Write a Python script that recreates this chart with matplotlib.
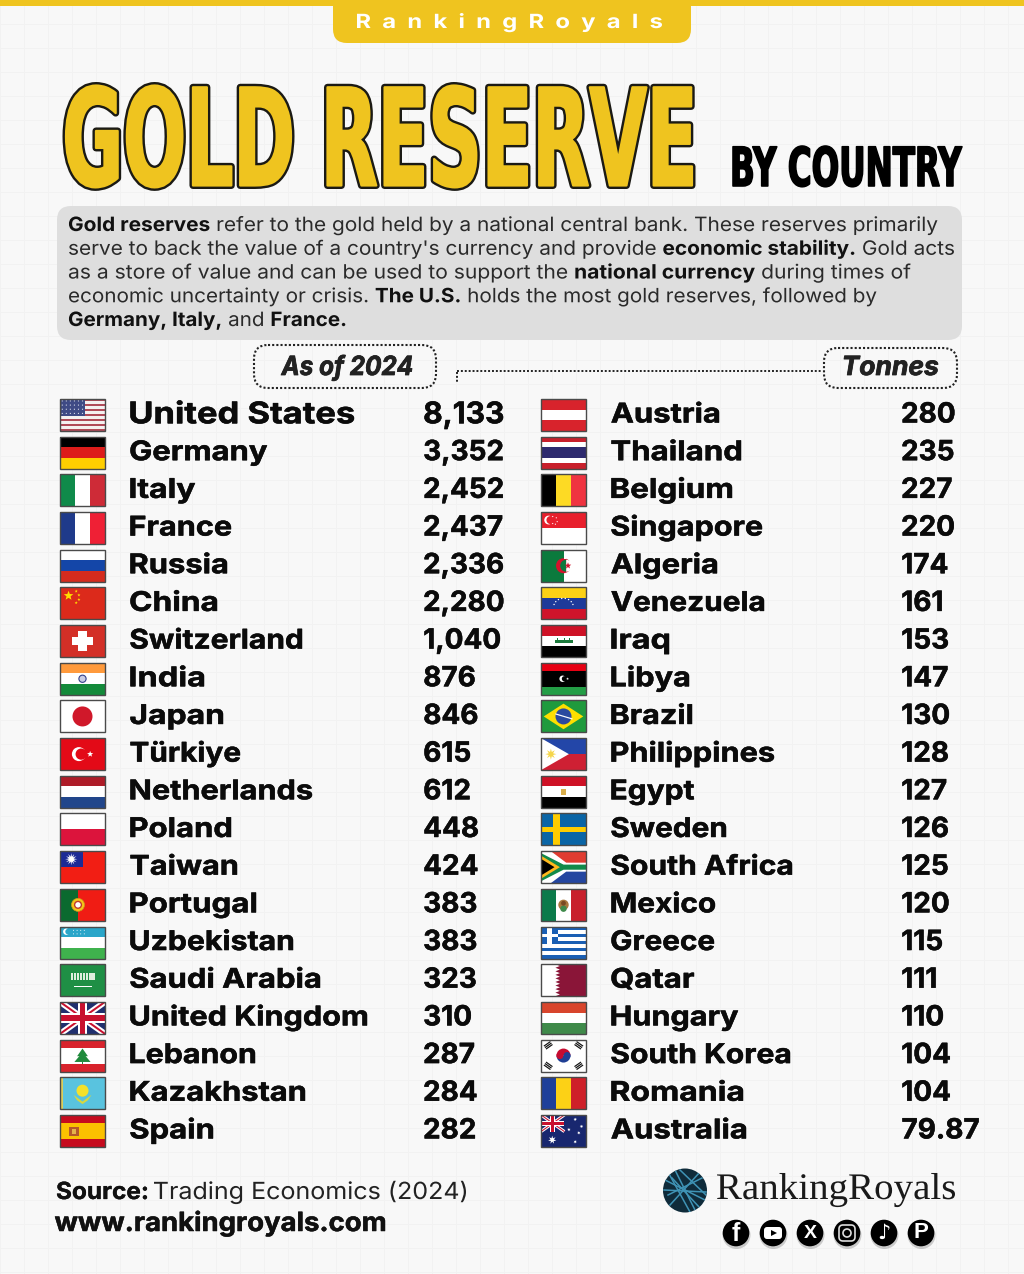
import matplotlib
matplotlib.use("Agg")
import matplotlib.pyplot as plt
from matplotlib.patches import Rectangle, Polygon, Circle, FancyBboxPatch, Wedge
from matplotlib.patheffects import AbstractPathEffect
from matplotlib.textpath import TextPath
from matplotlib.transforms import Affine2D
from matplotlib.font_manager import FontProperties
import numpy as np

# ---------------- data ----------------
countries_left = ["United States", "Germany", "Italy", "France", "Russia", "China", "Switzerland",
                  "India", "Japan", "Türkiye", "Netherlands", "Poland", "Taiwan", "Portugal",
                  "Uzbekistan", "Saudi Arabia", "United Kingdom", "Lebanon", "Kazakhstan", "Spain"]
tonnes_left = [8133, 3352, 2452, 2437, 2336, 2280, 1040, 876, 846, 615,
               612, 448, 424, 383, 383, 323, 310, 287, 284, 282]
countries_right = ["Austria", "Thailand", "Belgium", "Singapore", "Algeria", "Venezuela", "Iraq",
                   "Libya", "Brazil", "Philippines", "Egypt", "Sweden", "South Africa", "Mexico",
                   "Greece", "Qatar", "Hungary", "South Korea", "Romania", "Australia"]
tonnes_right = [280, 235, 227, 220, 174, 161, 153, 147, 130, 128,
                127, 126, 125, 120, 115, 111, 110, 104, 104, 79.87]
paragraph = [
    [("Gold reserves", True), (" refer to the gold held by a national central bank. These reserves primarily", False)],
    [("serve to back the value of a country's currency and provide ", False), ("economic stability.", True), (" Gold acts", False)],
    [("as a store of value and can be used to support the ", False), ("national currency", True), (" during times of", False)],
    [("economic uncertainty or crisis. ", False), ("The U.S.", True), (" holds the most gold reserves, followed by", False)],
    [("Germany, Italy,", True), (" and ", False), ("France.", True)],
]

# layout only: right-hand ends of the text runs, in picture pixels
paragraph_right = [938, 955, 911, 877, 347]
name_ends_left = [354, 267, 195, 231, 227, 217, 302, 204, 223, 240,
                  312, 231, 237, 256, 293, 320, 367, 255, 305, 213]
name_ends_right = [719, 741, 732, 762, 717, 764, 669, 689, 692, 774,
                   694, 726, 792, 715, 714, 694, 738, 790, 743, 746]

GOLD = "#EFC41F"
INK = "#0b0b0b"
BG = "#F8F8F8"
BODY = "Inter"

fig = plt.figure(figsize=(10.24, 12.74), dpi=100, facecolor=BG)
ax = fig.add_axes([0, 0, 1, 1])
ax.set_xlim(0, 1024)
ax.set_ylim(1274, 0)
ax.axis("off")


class Fit(AbstractPathEffect):
    """Stretch a text's glyphs about its origin, with optional stroked layers under the fill."""
    def __init__(self, sx=1, sy=1, layers=()):
        super().__init__()
        self.sx, self.sy, self.layers = sx, sy, layers

    def draw_path(self, renderer, gc, tpath, affine, rgbFace=None):
        a = Affine2D().scale(self.sx, self.sy) + affine
        for lw, col in self.layers:
            g = renderer.new_gc()
            g.copy_properties(gc)
            g.set_linewidth(lw * 0.72)
            g.set_foreground(col)
            g.set_joinstyle("round")
            renderer.draw_path(g, tpath, a, rgbFace=matplotlib.colors.to_rgba(col))
            g.restore()
        renderer.draw_path(gc, tpath, a, rgbFace)


def ink(s, size, fp):
    p = FontProperties(family=fp.get_family(), weight=fp.get_weight(), style=fp.get_style(), size=size)
    e = TextPath((0, 0), s, size=size, prop=p).get_extents()
    k = 100 / 72
    return e.x0 * k, e.x1 * k, e.y0 * k, e.y1 * k


def fit(x0, x1, base, s, size, family=BODY, weight="bold", style="normal", color=INK,
        top=None, layers=(), z=5):
    fp = FontProperties(family=family, weight=weight, style=style)
    a, b, c, d = ink(s, size, fp)
    sx = (x1 - x0) / (b - a)
    sy = 1 if top is None else (base - top) / d
    return ax.text(x0 - a * sx, base, s, fontsize=size, family=family, weight=weight, style=style,
                   color=color, va="baseline", ha="left", zorder=z,
                   path_effects=[Fit(sx, sy, layers)])


# ---------------- background ----------------
for gx in np.arange(0, 1024, 24):
    ax.axvline(gx, color="#F2F2F2", lw=0.7, zorder=0)
for gy in np.arange(0, 1274, 24):
    ax.axhline(gy, color="#F2F2F2", lw=0.7, zorder=0)

ax.add_patch(Rectangle((0, 0), 1024, 5.5, fc=GOLD, lw=0, zorder=1))
ax.add_patch(FancyBboxPatch((333 + 14, -20 + 14), 358 - 28, 63 - 28, boxstyle="round,pad=14,rounding_size=14",
                            lw=0, fc=GOLD, zorder=1))
fit(357, 662, 28, "R  a  n  k  i  n  g  R  o  y  a  l  s", 15, color="white", weight="bold", top=13)

# ---------------- title ----------------
fit(66, 692, 185.5, "GOLD RESERVE", 52, family="DejaVu Sans", top=85.5, color=GOLD,
    layers=[(7.0, "#1b1a14"), (2.2, GOLD)])
fit(733, 962, 186, "BY COUNTRY", 21, family="DejaVu Sans", top=146, color="black",
    layers=[(1.6, "black")])

# ---------------- paragraph ----------------
ax.add_patch(FancyBboxPatch((57 + 14, 206 + 14), 905 - 28, 134 - 28, boxstyle="round,pad=14,rounding_size=14",
                            lw=0, fc="#DEDEDE", zorder=1))
P_SIZE = 14.2
for i, (runs, right) in enumerate(zip(paragraph, paragraph_right)):
    base = 231 + i * 23.75
    widths = []
    for s, bold in runs:
        fp = FontProperties(family=BODY, weight="bold" if bold else "normal")
        a, b, _, _ = ink(s + "|", P_SIZE, fp)
        a2, b2, _, _ = ink("|", P_SIZE, fp)
        widths.append(b - (b2 - a2) - a2)
    scale = (right - 68) / sum(widths)
    x = 68
    for (s, bold), w in zip(runs, widths):
        ax.text(x, base, s, fontsize=P_SIZE, family=BODY, weight="bold" if bold else "normal",
                color="#111111" if bold else "#2a2a2a", va="baseline", zorder=5,
                path_effects=[Fit(scale, 1)])
        x += w * scale

# ---------------- dotted labels ----------------
DOT = dict(lw=1.5, ls=(0, (1, 1)), ec="#222222", fc="none", zorder=3)
ax.add_patch(FancyBboxPatch((254 + 14, 345 + 14), 182 - 28, 43 - 28, boxstyle="round,pad=14,rounding_size=14", **DOT))
ax.add_patch(FancyBboxPatch((824 + 14, 348 + 14), 133 - 28, 40 - 28, boxstyle="round,pad=14,rounding_size=14", **DOT))
ax.plot([457, 822], [371, 371], color="#222222", lw=1.4, ls=(0, (1, 1)), zorder=3)
ax.plot([457, 457], [372, 382], color="#222222", lw=1.4, ls=(0, (1, 1)), zorder=3)
fit(281, 412, 375, "As of 2024", 19, style="italic", color="#222222", layers=[(0.8, "#222222")])
fit(844, 938, 375, "Tonnes", 19, style="italic", color="#222222", layers=[(0.8, "#222222")])

# ---------------- flags ----------------
W, H = 45, 32


class F:
    def __init__(self, x, y):
        self.x, self.y = x, y
        self.clip = Rectangle((x, y), W, H, transform=ax.transData)

    def _add(self, p):
        p.set_zorder(4)
        ax.add_patch(p)
        p.set_clip_path(self.clip)

    def r(self, u0, v0, u1, v1, c):
        self._add(Rectangle((self.x + u0 * W, self.y + v0 * H), (u1 - u0) * W, (v1 - v0) * H, fc=c, lw=0))

    def p(self, pts, c):
        self._add(Polygon([(self.x + u * W, self.y + v * H) for u, v in pts], fc=c, lw=0))

    def c(self, u, v, rad, c, ec=None, lw=0):
        self._add(Circle((self.x + u * W, self.y + v * H), rad, fc=c, ec=ec, lw=lw))

    def w(self, u, v, rad, t0, t1, c):
        self._add(Wedge((self.x + u * W, self.y + v * H), rad, t0, t1, fc=c, lw=0))

    def star(self, u, v, rad, c, n=5):
        a = np.arange(2 * n) * np.pi / n - np.pi / 2
        rr = np.where(np.arange(2 * n) % 2 == 0, rad, rad * 0.42)
        self.p([(u + q * np.cos(t) / W, v + q * np.sin(t) / H) for q, t in zip(rr, a)], c)

    def line(self, u0, v0, u1, v1, w, c):
        a = np.array([u0 * W, v0 * H])
        b = np.array([u1 * W, v1 * H])
        n = np.array([-(b - a)[1], (b - a)[0]])
        n = n / np.hypot(*n) * w / 2
        q = [a + n, b + n, b - n, a - n]
        self.p([(t[0] / W, t[1] / H) for t in q], c)

    def hs(self, cols, wts=None):
        wts = wts or [1] * len(cols)
        e = np.cumsum([0] + list(wts)) / sum(wts)
        for i, c in enumerate(cols):
            self.r(0, e[i], 1, e[i + 1], c)

    def vs(self, cols, wts=None):
        wts = wts or [1] * len(cols)
        e = np.cumsum([0] + list(wts)) / sum(wts)
        for i, c in enumerate(cols):
            self.r(e[i], 0, e[i + 1], 1, c)


def union(f, u1=1.0, v1=1.0, navy="#1f2f6e"):
    f.r(0, 0, u1, v1, navy)
    for a, b, c, d in [(0, 0, u1, v1), (0, v1, u1, 0)]:
        f.line(a, b, c, d, 6 * u1, "white")
    for a, b, c, d in [(0, 0, u1, v1), (0, v1, u1, 0)]:
        f.line(a, b, c, d, 2 * u1, "#c8102e")
    f.r(u1 * .39, 0, u1 * .61, v1, "white")
    f.r(0, v1 * .35, u1, v1 * .65, "white")
    f.r(u1 * .44, 0, u1 * .56, v1, "#c8102e")
    f.r(0, v1 * .41, u1, v1 * .59, "#c8102e")


def us(f):
    f.hs(["#b04a58", "#f4f0f0"] * 6 + ["#b04a58"])
    f.r(0, 0, .56, 7 / 13, "#3f4a85")
    for i in range(6):
        for j in range(4):
            f.c(.05 + i * .09, .06 + j * .13, .6, "#dfe2ee")


def china(f):
    f.r(0, 0, 1, 1, "#dc2a1b")
    f.star(.19, .26, 5, "#ffde00")
    for u, v in [(.36, .12), (.42, .24), (.42, .38), (.36, .48)]:
        f.star(u, v, 1.6, "#ffde00")


def swiss(f):
    f.r(0, 0, 1, 1, "#d32f27")
    f.r(.39, .2, .61, .8, "white")
    f.r(.26, .38, .74, .62, "white")


def india(f):
    f.hs(["#ff9a3c", "white", "#138a3a"])
    f.c(.5, .5, 3.6, "#c9cde6", ec="#34408a", lw=.8)


def japan(f):
    f.r(0, 0, 1, 1, "white")
    f.c(.5, .5, 10, "#d0182a")


def turkey(f):
    f.r(0, 0, 1, 1, "#e30a17")
    f.c(.42, .5, 7, "white")
    f.c(.47, .5, 5.6, "#e30a17")
    f.star(.67, .5, 3.2, "white")


def taiwan(f):
    f.r(0, 0, 1, 1, "#f21e14")
    f.r(0, 0, .5, .5, "#1c2a96")
    f.star(.25, .25, 6, "white", n=12)


def portugal(f):
    f.vs(["#0b6a2f", "#f01c14"], [2, 3])
    f.c(.4, .5, 6.5, "#f5c518", ec="#c9981a", lw=.5)
    f.c(.4, .5, 3.4, "white", ec="#c0392b", lw=1)


def uzbek(f):
    f.hs(["#2aa6c9", "#c8232c", "white", "#c8232c", "#3fb24d"], [10, .7, 10, .7, 10])
    f.c(.14, .16, 3.2, "white")
    f.c(.18, .16, 2.8, "#2aa6c9")
    for i in range(4):
        for j in range(2):
            f.c(.3 + i * .08, .12 + j * .11, .5, "white")


def saudi(f):
    f.r(0, 0, 1, 1, "#1f8f45")
    f.r(.24, .26, .78, .5, "#dfeedd")
    for u in np.arange(.28, .78, .07):
        f.r(u, .26, u + .02, .5, "#1f8f45")
    f.r(.3, .68, .72, .72, "white")


def uk(f):
    union(f)


def lebanon(f):
    f.hs(["#d8232c", "white", "#d8232c"], [1, 2, 1])
    f.p([(.5, .28), (.38, .52), (.62, .52)], "#1f8a3b")
    f.p([(.5, .4), (.32, .7), (.68, .7)], "#1f8a3b")
    f.r(.48, .7, .52, .76, "#1f8a3b")


def kazakh(f):
    f.r(0, 0, 1, 1, "#59c3df")
    f.r(0, 0, .06, 1, "#d9cc5a")
    f.c(.5, .42, 6, "#f4e12a")
    f.p([(.3, .55), (.5, .76), (.7, .55), (.62, .72), (.5, .84), (.38, .72)], "#d6d83f")


def spain(f):
    f.hs(["#c60b1e", "#fbc100", "#c60b1e"], [1, 2, 1])
    f.r(.2, .38, .42, .66, "#b5572a")
    f.r(.26, .44, .36, .6, "#e5b34a")


def singapore(f):
    f.hs(["#e81f2c", "white"])
    f.c(.17, .25, 4.4, "white")
    f.c(.21, .25, 4.0, "#e81f2c")
    for u, v in [(.26, .14), (.34, .18), (.36, .3), (.26, .36), (.32, .38)]:
        f.c(u, v, .6, "white")


def algeria(f):
    f.vs(["#0b7a3d", "white"])
    f.c(.5, .5, 7.5, "#d2132c")
    f.w(.56, .5, 6, 90, 270, "#0b7a3d")
    f.w(.56, .5, 6, -90, 90, "white")
    f.r(.5, 0, .56, .3, "white")
    f.star(.6, .5, 3.4, "#d2132c")


def venezuela(f):
    f.hs(["#fcd116", "#1e3a9a", "#cf142b"])
    for t in np.linspace(np.pi * 1.1, np.pi * 1.9, 8):
        f.c(.5 + .22 * np.cos(t), .62 + .28 * np.sin(t), .7, "white")


def iraq(f):
    f.hs(["#ce1126", "white", "black"])
    f.r(.3, .47, .7, .57, "#1b7a3c")
    for u in (.35, .5, .62):
        f.r(u, .41, u + .03, .5, "#1b7a3c")


def libya(f):
    f.hs(["#e70013", "black", "#239e46"], [1, 2, 1])
    f.c(.48, .5, 3.2, "white")
    f.c(.52, .5, 2.6, "black")
    f.star(.59, .5, 1.4, "white")


def brazil(f):
    f.r(0, 0, 1, 1, "#1f9a3d")
    f.p([(.5, .1), (.94, .5), (.5, .9), (.06, .5)], "#fedf00")
    f.c(.5, .5, 8, "#2b4a9f")
    f.line(.32, .42, .7, .58, 1.2, "white")


def philippines(f):
    f.hs(["#2346a8", "#ce2033"])
    f.p([(0, 0), (.62, .5), (0, 1)], "white")
    f.star(.22, .5, 5.5, "#f6d64a", n=8)


def egypt(f):
    f.hs(["#ce1126", "white", "black"])
    f.r(.44, .4, .56, .6, "#d8ad4a")


def sweden(f):
    f.r(0, 0, 1, 1, "#0a65a6")
    f.r(.27, 0, .42, 1, "#fecc00")
    f.r(0, .41, 1, .59, "#fecc00")


def safrica(f):
    f.hs(["#e03c31", "#2446a0"])
    f.p([(0, -.04), (.18, -.04), (.56, .36), (1, .36), (1, .64), (.56, .64), (.18, 1.04), (0, 1.04)], "white")
    f.p([(0, .06), (.5, .42), (1, .42), (1, .58), (.5, .58), (0, .94)], "#118a4a")
    f.p([(0, .14), (.42, .5), (0, .86)], "#ffb81c")
    f.p([(0, .24), (.3, .5), (0, .76)], "black")


def mexico(f):
    f.vs(["#0b7a4a", "white", "#c8202c"])
    f.c(.5, .5, 5.2, "#a9783d")
    f.c(.5, .62, 3.2, "#3f8a4a")
    f.c(.5, .45, 2.4, "#7a4a22")


def greece(f):
    f.hs(["#1a5fb4", "white"] * 4 + ["#1a5fb4"])
    f.r(0, 0, .38, 5 / 9, "#1a5fb4")
    f.r(.14, 0, .24, 5 / 9, "white")
    f.r(0, 2 / 9, .38, 3 / 9, "white")


def qatar(f):
    f.r(0, 0, 1, 1, "#8a1538")
    n = 9
    pts = [(0, 0)]
    for i in range(n):
        pts += [(.32, i / n), (.42, (i + .5) / n)]
    pts += [(.32, 1), (0, 1)]
    f.p(pts, "white")


def skorea(f):
    f.r(0, 0, 1, 1, "white")
    f.w(.5, .5, 7, 180, 360, "#c60c30")
    f.w(.5, .5, 7, 0, 180, "#1f3f94")
    f.c(.42, .5, 3.5, "#c60c30")
    f.c(.58, .5, 3.5, "#1f3f94")
    for (u, v), ang in zip([(.16, .18), (.84, .18), (.16, .82), (.84, .82)], [-35, 35, 35, -35]):
        for k in (-1.8, 0, 1.8):
            t = np.deg2rad(ang)
            du, dv = 4 * np.cos(t) / W, 4 * np.sin(t) / H
            ou, ov = k * -np.sin(t) / W, k * np.cos(t) / H
            f.line(u - du + ou, v - dv + ov, u + du + ou, v + dv + ov, 1.2, "#111111")


def australia(f):
    f.r(0, 0, 1, 1, "#18276f")
    union(f, .52, .52, "#18276f")
    f.star(.25, .78, 4.2, "white", n=7)
    for u, v in [(.76, .14), (.62, .46), (.9, .36), (.76, .84), (.84, .56)]:
        f.star(u, v, 1.8, "white", n=7)


def stripes(cols, wts=None):
    return lambda f: f.hs(cols, wts)


def bars(cols, wts=None):
    return lambda f: f.vs(cols, wts)


FLAGS = {
    "United States": us, "Germany": stripes(["black", "#dd1c1a", "#ffce00"]),
    "Italy": bars(["#0f8a4a", "white", "#ce2b37"]), "France": bars(["#1f3a8a", "white", "#ef2035"]),
    "Russia": stripes(["white", "#1446a8", "#d52b1e"]), "China": china, "Switzerland": swiss,
    "India": india, "Japan": japan, "Türkiye": turkey,
    "Netherlands": stripes(["#ae1c28", "white", "#21468b"]), "Poland": stripes(["white", "#dc143c"]),
    "Taiwan": taiwan, "Portugal": portugal, "Uzbekistan": uzbek, "Saudi Arabia": saudi,
    "United Kingdom": uk, "Lebanon": lebanon, "Kazakhstan": kazakh, "Spain": spain,
    "Austria": stripes(["#d8232c", "white", "#d8232c"]),
    "Thailand": stripes(["#c8202c", "white", "#2d2a6e", "white", "#c8202c"], [1, 1, 2, 1, 1]),
    "Belgium": bars(["black", "#fdda24", "#ef3340"]), "Singapore": singapore, "Algeria": algeria,
    "Venezuela": venezuela, "Iraq": iraq, "Libya": libya, "Brazil": brazil, "Philippines": philippines,
    "Egypt": egypt, "Sweden": sweden, "South Africa": safrica, "Mexico": mexico, "Greece": greece,
    "Qatar": qatar, "Hungary": stripes(["#d8452c", "white", "#3f8a4a"]), "South Korea": skorea,
    "Romania": bars(["#1e3f9a", "#fcd116", "#ce2029"]), "Australia": australia,
}

# ---------------- rows ----------------
ROW0, ROWSTEP = 415, 37.68
NAME_SIZE, NUM_SIZE = 19.5, 20
NAME_FP = dict(family=BODY, weight="bold")
_a, _b, _, _ = ink("3,352", NUM_SIZE, FontProperties(**NAME_FP))
NUM_SX = 78 / (_b - _a)
STROKE = [(0.5, INK)]


def label(x, base, s, size, sx=None, end=None):
    a, b, _, _ = ink(s, size, FontProperties(**NAME_FP))
    if end is not None:
        sx = (end - x) / (b - a)
    ax.text(x - a * sx, base, s, fontsize=size, color=INK, va="baseline", zorder=5,
            path_effects=[Fit(sx, 1, STROKE)], **NAME_FP)


def column(names, vals, ends, flag_x, name_x, num_x):
    for i, (n, v, e) in enumerate(zip(names, vals, ends)):
        cy = ROW0 + i * ROWSTEP
        f = F(flag_x, cy - H / 2)
        FLAGS[n](f)
        ax.add_patch(Rectangle((flag_x, cy - H / 2), W, H, fc="none", ec="#4a4a4a", lw=1, zorder=4.5))
        big = n == "United States"
        base = cy + (8.3 if big else 7.5)
        label(name_x, base, n, 21.5 if big else NAME_SIZE, end=e)
        label(num_x, base, f"{v:,}", 21.5 if big else NUM_SIZE, sx=NUM_SX)


column(countries_left, tonnes_left, name_ends_left, 60, 130.5, 424.5)
column(countries_right, tonnes_right, name_ends_right, 541, 611.5, 902.5)

# ---------------- footer ----------------
fit(57, 147, 1199, "Source:", 17, color="#111111", layers=[(0.3, "#111111")])
fit(154, 466, 1199, "Trading Economics (2024)", 17, weight="normal", color="#222222")
fit(55, 385, 1231, "www.rankingroyals.com", 19, color="#111111", layers=[(0.5, "#111111")])

# logo
ax.add_patch(Circle((685, 1190.5), 22, fc="#0f2b3a", lw=0, zorder=4))
logo_clip = Circle((685, 1190.5), 22, transform=ax.transData)
for (x0, y0, x1, y1) in [(665, 1180, 705, 1200), (670, 1205, 700, 1172), (668, 1195, 702, 1178),
                         (675, 1170, 695, 1210), (664, 1190, 706, 1192), (672, 1178, 700, 1208),
                         (668, 1172, 690, 1212), (680, 1170, 706, 1195)]:
    l, = ax.plot([x0, x1], [y0, y1], color="#3f93b5", lw=1.1, zorder=4.5)
    l.set_clip_path(logo_clip)
fit(717, 955, 1199, "RankingRoyals", 27, family="Liberation Serif", weight="normal", color="#1a1a1a")

# social icons
ICON_X = [736, 773, 810, 847, 884, 921]
ICON_Y = 1233
for x in ICON_X:
    ax.add_patch(Circle((x + 0.5, ICON_Y + 2), 14, fc="#000000", alpha=.18, lw=0, zorder=3))
    ax.add_patch(Circle((x, ICON_Y), 13.3, fc="black", lw=0, zorder=4))
tx = dict(color="white", ha="center", va="center", zorder=5, weight="bold")
ax.text(ICON_X[0], ICON_Y + 1, "f", fontsize=18, family="Liberation Sans", **tx)
ax.add_patch(FancyBboxPatch((ICON_X[1] - 7, ICON_Y - 4), 14, 8, boxstyle="round,pad=2,rounding_size=3", fc="white", lw=0, zorder=5))
ax.add_patch(Polygon([(ICON_X[1] - 2, ICON_Y - 3), (ICON_X[1] + 4, ICON_Y), (ICON_X[1] - 2, ICON_Y + 3)], fc="black", lw=0, zorder=6))
ax.text(ICON_X[2], ICON_Y, "X", fontsize=14, family="Liberation Sans", **tx)
ax.add_patch(FancyBboxPatch((ICON_X[3] - 6, ICON_Y - 6), 12, 12, boxstyle="round,pad=2,rounding_size=4", fc="none", ec="#dddddd", lw=1.2, zorder=5))
ax.add_patch(Circle((ICON_X[3], ICON_Y), 4, fc="none", ec="#dddddd", lw=1.2, zorder=5))
ax.text(ICON_X[4], ICON_Y, "♪", fontsize=15, family="DejaVu Sans", **tx)
ax.text(ICON_X[5], ICON_Y, "P", fontsize=16, family="Liberation Sans", **tx)

fig.savefig("out.png", dpi=100, facecolor=BG)
